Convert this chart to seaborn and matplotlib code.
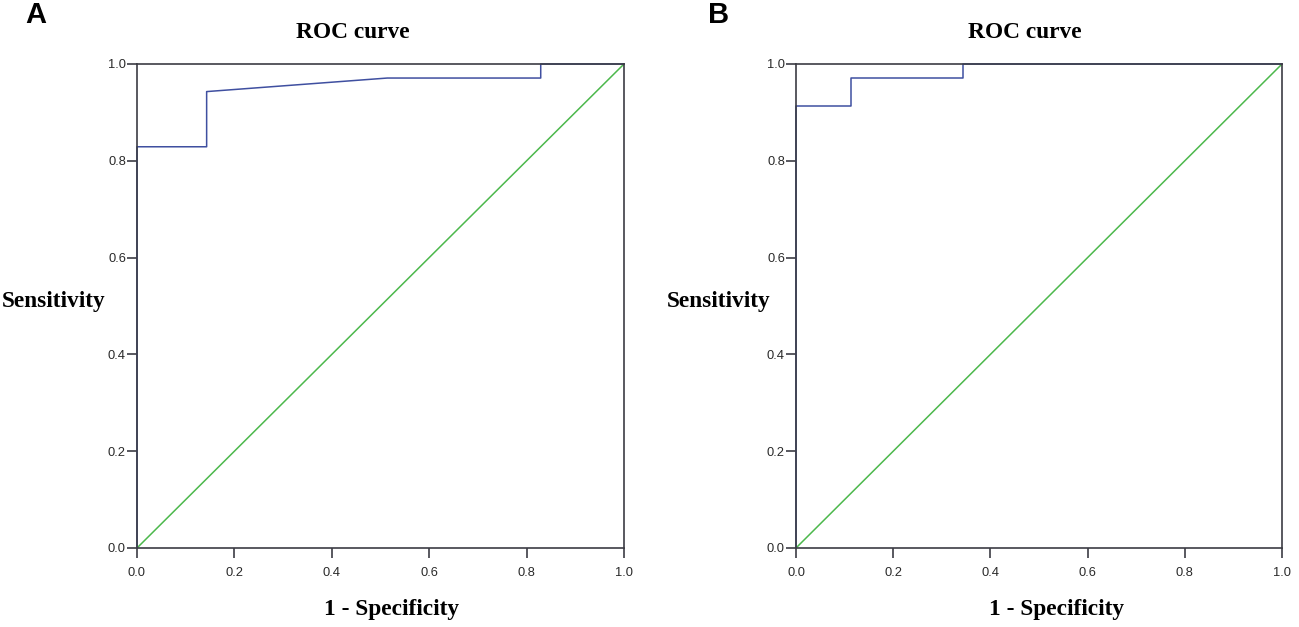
import matplotlib
matplotlib.use("Agg")
import matplotlib.pyplot as plt
import seaborn as sns
import pandas as pd

sns.set_theme(style="white")
plt.rcParams['font.family'] = ['Liberation Sans', 'DejaVu Sans']

# Panel A ROC curve points
fpr_a = [0.0, 0.0, 0.143, 0.143, 0.514, 0.829, 0.829, 1.0]
tpr_a = [0.0, 0.829, 0.829, 0.943, 0.971, 0.971, 1.0, 1.0]
# Panel B ROC curve points
fpr_b = [0.0, 0.0, 0.114, 0.114, 0.343, 0.343, 1.0]
tpr_b = [0.0, 0.914, 0.914, 0.971, 0.971, 1.0, 1.0]
# Reference line
ref_x = [0.0, 1.0]
ref_y = [0.0, 1.0]

ticks = [0.0, 0.2, 0.4, 0.6, 0.8, 1.0]
tick_labels = ["0.0", "0.2", "0.4", "0.6", "0.8", "1.0"]

blue = "#3f4fa0"
green = "#4cb84c"
spine = "#3c3c44"

fig = plt.figure(figsize=(12.99, 6.27), dpi=100)
W, H = 1299, 627

def make_axes(x0, x1, y_top, y_bot):
    return fig.add_axes([x0 / W, 1 - y_bot / H, (x1 - x0) / W, (y_bot - y_top) / H])

axA = make_axes(137, 624, 64, 548)
axB = make_axes(796, 1282, 64, 548)

serif = ['Liberation Serif', 'DejaVu Serif']
fs = 16.8

for ax, fx, ty, label, lx, title_x, ylab_x, xlab_x in [
    (axA, fpr_a, tpr_a, "A", 25, 353, 54, 392),
    (axB, fpr_b, tpr_b, "B", 708, 1025, 719, 1057),
]:
    sns.lineplot(x=ref_x, y=ref_y, ax=ax, color=green, lw=1.1, sort=False, estimator=None)
    df = pd.DataFrame({"fpr": fx, "tpr": ty})
    sns.lineplot(data=df, x="fpr", y="tpr", ax=ax, color=blue, lw=1.1, sort=False, estimator=None)
    ax.set_xlim(0, 1)
    ax.set_ylim(0, 1)
    ax.set_xticks(ticks)
    ax.set_xticklabels(tick_labels)
    ax.set_yticks(ticks)
    ax.set_yticklabels(tick_labels)
    ax.set_xlabel("")
    ax.set_ylabel("")
    ax.tick_params(axis='both', which='both', direction='out', length=7, width=1.2,
                   color=spine, labelsize=9.3, labelcolor="#2a2a2a",
                   bottom=True, left=True, top=False, right=False)
    ax.tick_params(axis='x', pad=7)
    ax.tick_params(axis='y', pad=1)
    for s in ax.spines.values():
        s.set_color(spine)
        s.set_linewidth(1.2)
        s.set_visible(True)
    for l in ax.get_lines():
        l.set_clip_on(False)
    fig.text(lx / W, 1 - 15 / H, label, ha='left', va='center', fontsize=21,
             fontweight='bold', color="black", family=['Liberation Sans', 'DejaVu Sans'])
    fig.text(title_x / W, 1 - 33 / H, "ROC curve", ha='center', va='center',
             fontsize=fs, fontweight='bold', color="black", family=serif)
    fig.text(ylab_x / W, 1 - 302 / H, "Sensitivity", ha='center', va='center',
             fontsize=fs, fontweight='bold', color="black", family=serif)
    fig.text(xlab_x / W, 1 - 610 / H, "1 - Specificity", ha='center', va='center',
             fontsize=fs, fontweight='bold', color="black", family=serif)

fig.savefig("out.png", dpi=100, facecolor="white")
